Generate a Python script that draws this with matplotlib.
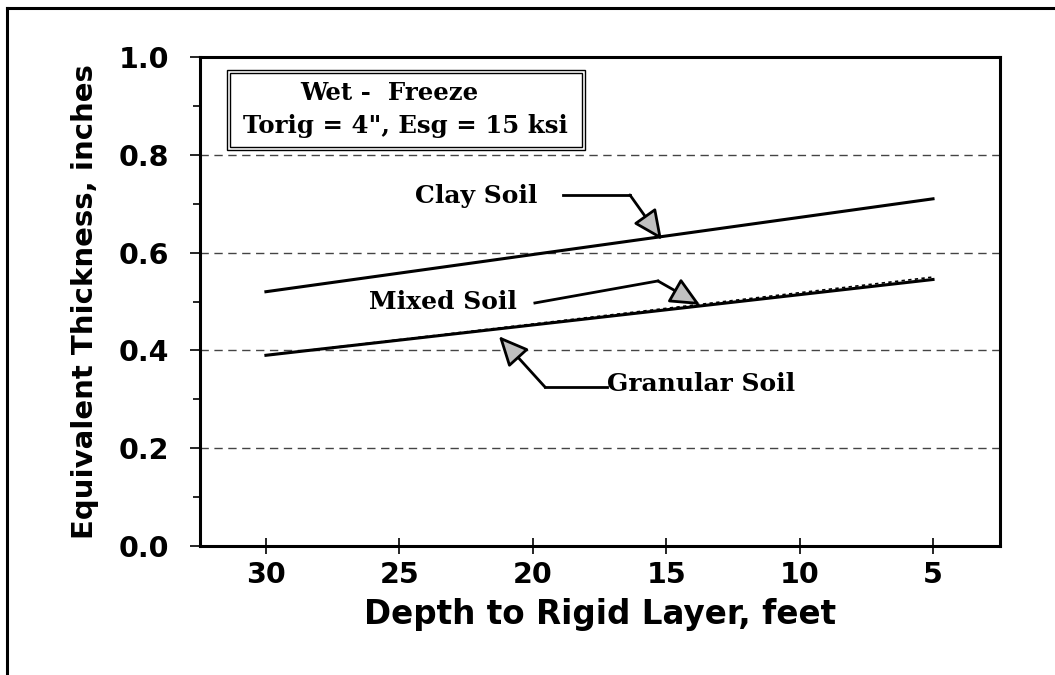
import matplotlib
matplotlib.use("Agg")
import matplotlib.pyplot as plt
from matplotlib.patches import Rectangle

depth = [30, 25, 20, 15, 10, 5]
clay = [0.52, 0.558, 0.596, 0.634, 0.672, 0.71]
granular = [0.39, 0.421, 0.452, 0.483, 0.514, 0.545]
mixed = [0.39, 0.422, 0.454, 0.486, 0.518, 0.55]

xticks = [30, 25, 20, 15, 10, 5]
yticks = [0.0, 0.2, 0.4, 0.6, 0.8, 1.0]

sans = "DejaVu Sans"
serif = "DejaVu Serif"

fig = plt.figure(figsize=(10.55, 6.75), dpi=100)
# outer frame (left and top edges visible)
fig.add_artist(plt.Line2D([7/1055, 7/1055], [0, 1 - 8/675], color="black", lw=2.2,
                          transform=fig.transFigure))
fig.add_artist(plt.Line2D([7/1055, 1], [1 - 8/675, 1 - 8/675], color="black", lw=2.2,
                          transform=fig.transFigure))

ax = fig.add_axes([200/1055, 1 - 546/675, 800/1055, 489/675])
ax.set_xlim(32.47, 2.49)
ax.set_ylim(0, 1.0)

for y in [0.2, 0.4, 0.6, 0.8]:
    ax.axhline(y, color="#444444", lw=1.0, ls=(0, (6, 4)), zorder=1)

ax.plot(depth, clay, color="black", lw=2.2, zorder=3)
ax.plot(depth, granular, color="black", lw=2.2, zorder=3)
ax.plot(depth, mixed, color="black", lw=1.2, ls=(0, (2, 2)), zorder=3)

ax.set_xticks(xticks)
ax.set_xticklabels([str(v) for v in xticks])
ax.set_yticks(yticks)
ax.set_yticklabels([f"{v:.1f}" for v in yticks])
ax.set_yticks([0.1, 0.3, 0.5, 0.7, 0.9], minor=True)
ax.tick_params(axis="x", direction="inout", length=11, width=1.2, pad=5)
ax.tick_params(axis="y", which="major", direction="out", length=7.5, width=1.2, pad=15)
ax.tick_params(axis="y", which="minor", direction="out", length=5, width=1.2)
for lab in ax.get_xticklabels() + ax.get_yticklabels():
    lab.set_fontfamily(sans)
    lab.set_fontweight("bold")
    lab.set_fontsize(20.5)

for s in ax.spines.values():
    s.set_linewidth(2.2)

ax.set_xlabel("Depth to Rigid Layer, feet", fontfamily=sans, fontweight="bold",
              fontsize=23.5, labelpad=7)
ax.set_ylabel("Equivalent Thickness, inches", fontfamily=sans, fontweight="bold",
              fontsize=21, labelpad=14)

# title box with double border
ax.add_patch(Rectangle((0.034, 0.810), 0.447, 0.163, transform=ax.transAxes,
                       fill=False, lw=1.0, ec="black", zorder=4))
ax.add_patch(Rectangle((0.038, 0.816), 0.439, 0.151, transform=ax.transAxes,
                       fill=False, lw=1.0, ec="black", zorder=4))
ax.text(0.125, 0.912, "Wet -  Freeze", transform=ax.transAxes, ha="left",
        va="baseline", fontfamily=serif, fontweight="bold", fontsize=17.6)
ax.text(0.054, 0.845, "Torig = 4\", Esg = 15 ksi", transform=ax.transAxes,
        ha="left", va="baseline", fontfamily=serif, fontweight="bold", fontsize=17.6)

tfont = dict(fontfamily=serif, fontweight="bold", fontsize=18)
aprops = dict(arrowstyle="-|>,head_length=1.3,head_width=0.6", lw=2.0,
              mutation_scale=14, color="black", fc="#c0c0c0", ec="black",
              shrinkA=0, shrinkB=0)

# Clay Soil
ax.text(19.84, 0.701, "Clay Soil", ha="right", va="baseline", **tfont)
ax.plot([18.87, 16.36], [0.718, 0.718], color="black", lw=2.0)
ax.annotate("", xy=(15.16, 0.626), xytext=(16.36, 0.718), arrowprops=aprops)

# Mixed Soil
ax.text(20.59, 0.485, "Mixed Soil", ha="right", va="baseline", **tfont)
ax.plot([19.92, 15.31], [0.497, 0.542], color="black", lw=2.0)
ax.annotate("", xy=(13.73, 0.493), xytext=(15.31, 0.542), arrowprops=aprops)

# Granular Soil
ax.text(17.22, 0.317, "Granular Soil", ha="left", va="baseline", **tfont)
ax.plot([17.22, 19.54], [0.325, 0.325], color="black", lw=2.0)
ax.annotate("", xy=(21.27, 0.429), xytext=(19.54, 0.325), arrowprops=aprops)

fig.savefig("out.png", dpi=100)
